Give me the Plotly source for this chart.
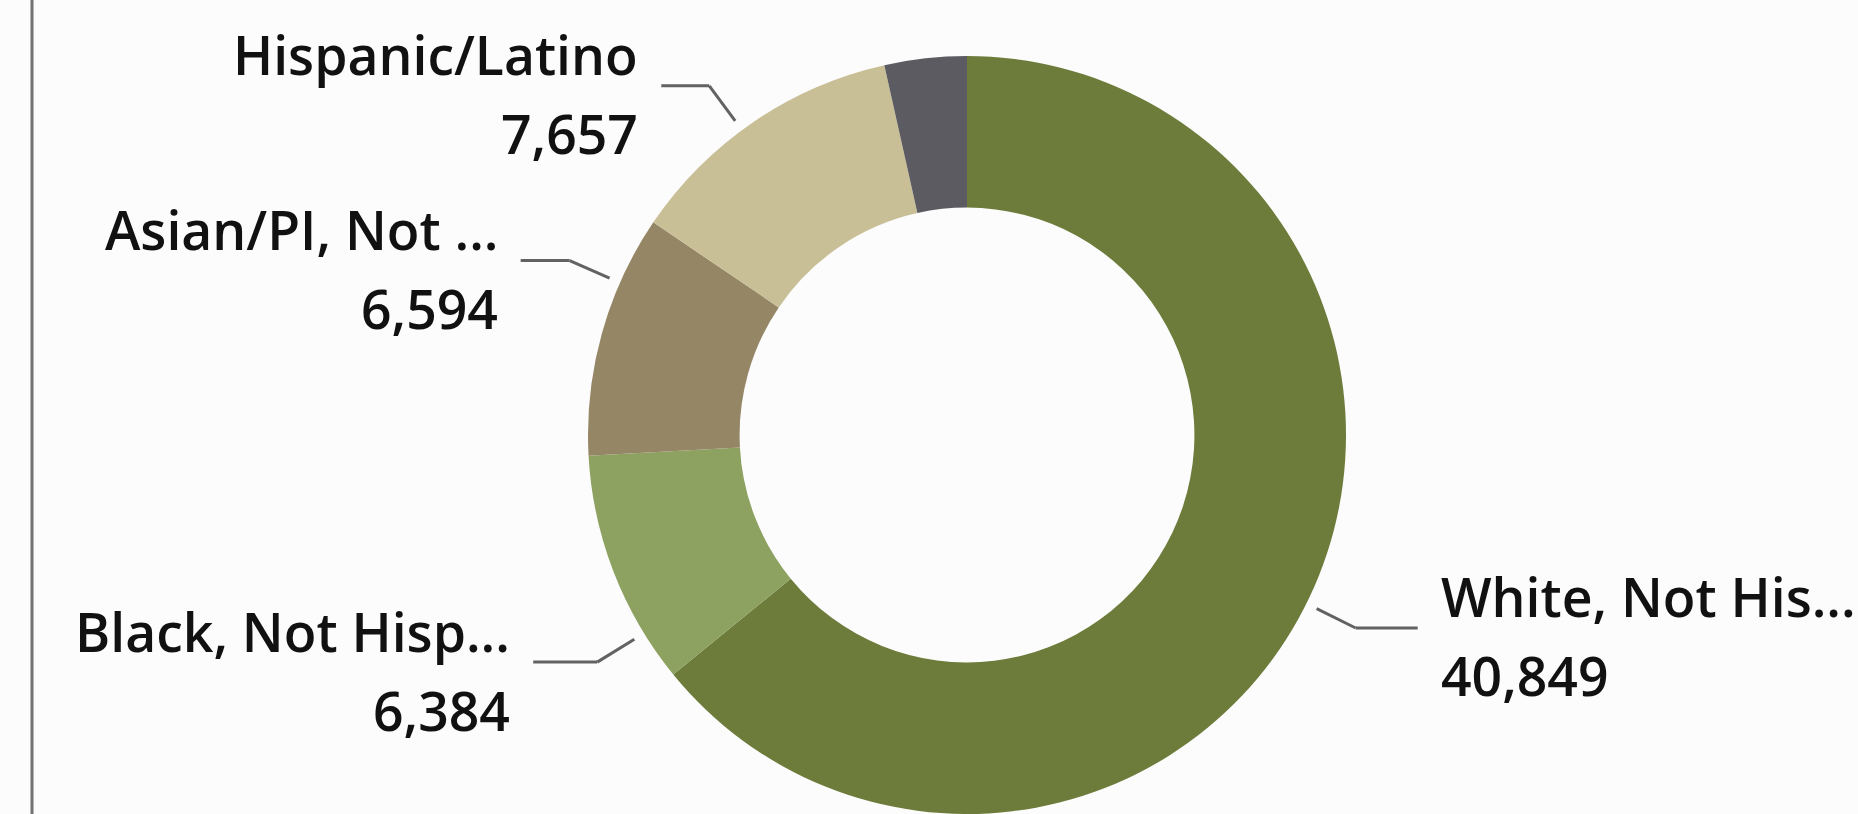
import math
import plotly.graph_objects as go

# ---- data ----
categories = ["White, Not Hispanic", "Black, Not Hispanic", "Asian/PI, Not Hispanic",
              "Hispanic/Latino", "Other"]
values = [40849, 6384, 6594, 7657, 2230]
display_labels = ["White, Not His...", "Black, Not Hisp...", "Asian/PI, Not ...",
                  "Hispanic/Latino", None]
colors = ["#6d7c3b", "#8da160", "#958766", "#c9bf97", "#5b5b61"]

# ---- layout geometry (pixels) ----
W, H = 1858, 814
R = 379                    # donut outer radius in px (domain-derived)
CX, CY = 967, H - R        # donut centre
# per-label leader tweaks: (angle nudge in degrees, horizontal leader length px)
label_layout = {
    "White, Not Hispanic": (1.0, 62),
    "Black, Not Hispanic": (-10.4, 64),
    "Asian/PI, Not Hispanic": (8.2, 49),
    "Hispanic/Latino": (-2.2, 48),
}
FONT = "Open Sans, DejaVu Sans, sans-serif"
FS = 53.5
GAP = 22

fig = go.Figure(go.Pie(
    labels=categories, values=values, hole=0.6, sort=False,
    direction="clockwise", rotation=0,
    marker=dict(colors=colors, line=dict(width=0)),
    textinfo="none", hoverinfo="label+value", showlegend=False,
    domain=dict(x=[(CX - R) / W, (CX + R) / W], y=[0, 2 * R / H]),
))

def px(x, y):
    return x / W, 1 - y / H

total = sum(values)
cum = 0
shapes, annos = [], []
for cat, v, lab in zip(categories, values, display_labels):
    start = cum
    cum += v
    if lab is None:
        continue
    nudge, hlen = label_layout[cat]
    theta = (start + v / 2) / total * 360 + nudge
    t = math.radians(theta)
    sx, sy = math.sin(t), -math.cos(t)
    p0 = (CX + 1.03 * R * sx, CY + 1.03 * R * sy)
    p1 = (CX + 1.145 * R * sx, CY + 1.145 * R * sy)
    side = 1 if sx > 0 else -1
    p2 = (p1[0] + side * hlen, p1[1])
    for a, b in ((p0, p1), (p1, p2)):
        x0, y0 = px(*a)
        x1, y1 = px(*b)
        shapes.append(dict(type="line", xref="paper", yref="paper",
                           x0=x0, y0=y0, x1=x1, y1=y1,
                           line=dict(color="#626262", width=3)))
    tx = p2[0] + side * GAP
    anchor = "left" if side > 0 else "right"
    for txt, dy in ((lab, -31), (f"{v:,}", 48)):
        ax, ay = px(tx, p2[1] + dy)
        annos.append(dict(text=txt, x=ax, y=ay, xref="paper", yref="paper",
                          xanchor=anchor, yanchor="middle", showarrow=False,
                          borderpad=0,
                          font=dict(family=FONT, size=FS, color="#111111",
                                    weight=600)))

# left border line
shapes.append(dict(type="line", xref="paper", yref="paper",
                   x0=32 / W, x1=32 / W, y0=0, y1=1,
                   line=dict(color="#727272", width=3)))

fig.update_layout(
    width=W, height=H, margin=dict(l=0, r=0, t=0, b=0),
    paper_bgcolor="#fcfcfc", plot_bgcolor="#fcfcfc",
    shapes=shapes, annotations=annos,
)
fig.write_html("out.html")
